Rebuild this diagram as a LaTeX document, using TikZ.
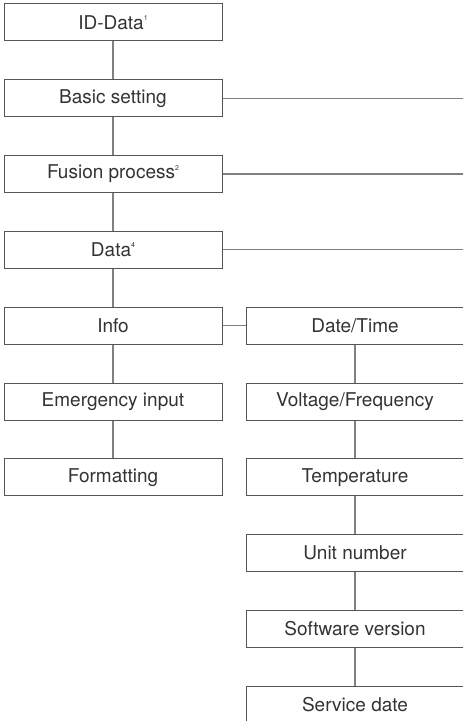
\documentclass[tikz,border=0pt]{standalone}
\usepackage{fontspec}
\setmainfont{TeX Gyre Heros}
\usetikzlibrary{positioning}

\definecolor{boxgray}{HTML}{555555}
\definecolor{linegray}{HTML}{808080}
\definecolor{textgray}{HTML}{333333}
\newcommand{\fnmark}[1]{\raisebox{0.9ex}{\fontsize{3.5}{3.5}\selectfont #1}}

\begin{document}
\begin{tikzpicture}[x=1pt, y=1pt, node distance=18.9pt and 11.5pt,
    menu/.style={draw=boxgray, line width=0.5pt, minimum width=109pt,
      minimum height=18.5pt, inner sep=0pt, text=textgray,
      font=\fontsize{9.5}{11}\selectfont},
    link/.style={draw=linegray, line width=0.6pt}]

    \clip (0,0) rectangle (231.5,-360.5);
    \coordinate (edge) at (240,0);

    % main menu
    \node[menu] (id) at (56.5,-11.25) {ID-Data\fnmark{1}};
    \node[menu, below=of id] (basic) {Basic setting};
    \node[menu, below=of basic] (fusion) {Fusion process\fnmark{2}};
    \node[menu, below=of fusion] (data) {Data\fnmark{4}};
    \node[menu, below=of data] (info) {Info};
    \node[menu, below=of info] (emerg) {Emergency input};
    \node[menu, below=of emerg] (format) {Formatting};

    % info submenu
    \node[menu, right=of info] (date) {Date/Time};
    \node[menu, below=of date] (volt) {Voltage/Frequency};
    \node[menu, below=of volt] (temp) {Temperature};
    \node[menu, below=of temp] (unit) {Unit number};
    \node[menu, below=of unit] (soft) {Software version};
    \node[menu, below=of soft] (service) {Service date};

    \coordinate (basic end) at (basic.east -| edge);
    \coordinate (fusion end) at (fusion.east -| edge);
    \coordinate (data end) at (data.east -| edge);

    \draw[link] (id) -- (basic);
    \draw[link] (basic) -- (fusion);
    \draw[link] (fusion) -- (data);
    \draw[link] (data) -- (info);
    \draw[link] (info) -- (emerg);
    \draw[link] (emerg) -- (format);
    \draw[link] (basic) -- (basic end);
    \draw[link] (fusion) -- (fusion end);
    \draw[link] (data) -- (data end);
    \draw[link] (info) -- (date);
    \draw[link] (date) -- (volt);
    \draw[link] (volt) -- (temp);
    \draw[link] (temp) -- (unit);
    \draw[link] (unit) -- (soft);
    \draw[link] (soft) -- (service);
\end{tikzpicture}
\end{document}
